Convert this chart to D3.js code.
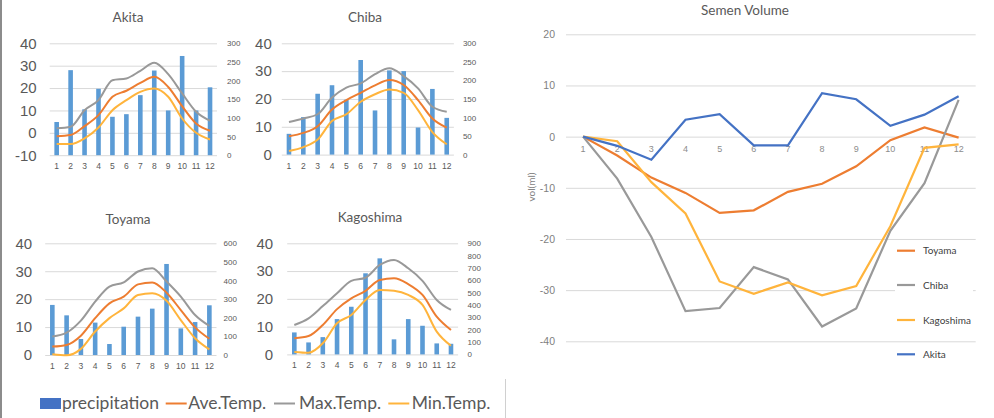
<!DOCTYPE html>
<html>
<head>
<meta charset="utf-8">
<script src="https://cdn.jsdelivr.net/npm/d3@7"></script>
<style>
  body { margin: 0; background: #fff; }
  svg { display: block; font-family: Lato, "Open Sans", sans-serif; }
  .tick line { stroke: #d9d9d9; }
</style>
</head>
<body>
<script>
// Months on the x axis
var months = [1, 2, 3, 4, 5, 6, 7, 8, 9, 10, 11, 12];

// Akita
var akitaPrecip = [89, 228, 123, 178, 103, 110, 161, 227, 120, 266, 120, 182];
var akitaAve = [-1.5, -1.0, 3.0, 7.9, 16.1, 18.8, 22.3, 25.0, 20.5, 11.9, 4.2, 0.9];
var akitaMax = [2.0, 2.7, 10.1, 14.6, 23.5, 24.3, 27.7, 31.3, 26.2, 17.6, 9.4, 5.4];
var akitaMin = [-5.0, -5.0, -2.5, 2.4, 10.1, 14.6, 18.3, 19.8, 16.1, 6.4, 0.0, -3.0];

// Chiba
var chibaPrecip = [56, 101, 164, 187, 148, 255, 119, 227, 225, 73, 177, 99];
var chibaAve = [6.6, 7.8, 10.2, 16.2, 19.6, 22.2, 24.9, 26.8, 25.0, 19.6, 13.0, 9.7];
var chibaMax = [11.7, 13.0, 14.5, 20.5, 24.1, 25.6, 28.9, 31.0, 28.2, 23.8, 17.2, 15.4];
var chibaMin = [1.3, 2.7, 5.4, 12.1, 14.5, 19.0, 21.7, 23.4, 22.2, 16.0, 8.1, 3.7];

// Toyama
var toyamaPrecip = [269, 213, 86, 174, 59, 152, 206, 249, 489, 143, 177, 267];
var toyamaAve = [3.0, 3.6, 6.9, 13.2, 18.5, 20.9, 25.3, 26.0, 22.3, 16.1, 9.9, 5.8];
var toyamaMax = [6.6, 8.0, 12.3, 19.1, 24.5, 26.0, 29.9, 31.1, 26.3, 20.9, 14.3, 10.4];
var toyamaMin = [0.3, -0.1, 2.2, 8.4, 13.2, 16.7, 21.5, 22.1, 19.4, 12.5, 6.0, 2.0];

// Kagoshima
var kagoPrecip = [178, 97, 140, 286, 386, 657, 778, 122, 286, 232, 89, 86];
var kagoAve = [5.8, 6.6, 10.6, 16.3, 20.2, 22.9, 26.8, 27.4, 25.3, 21.4, 13.6, 8.8];
var kagoMax = [10.6, 13.0, 17.4, 22.0, 26.5, 27.6, 32.2, 34.0, 31.0, 26.5, 19.6, 16.0];
var kagoMin = [0.9, 0.6, 4.0, 11.2, 14.2, 19.6, 23.2, 22.9, 21.4, 17.8, 8.2, 3.1];

// Semen Volume series
var semenToyama = [0, -3.7, -8.0, -11.0, -14.9, -14.4, -10.8, -9.2, -5.8, -0.7, 1.8, -0.2];
var semenChiba = [0, -8.2, -19.6, -34.1, -33.5, -25.5, -27.9, -37.1, -33.6, -18.4, -9.1, 7.2];
var semenKago = [0, -0.9, -8.9, -15.0, -28.3, -30.7, -28.5, -31.0, -29.2, -17.5, -2.2, -1.5];
var semenAkita = [0, -1.8, -4.5, 3.3, 4.4, -1.7, -1.7, 8.5, 7.3, 2.1, 4.3, 7.9];

// Tick labels
var tempTicks = [-10, 0, 10, 20, 30, 40];
var semenTicks = [-40, -30, -20, -10, 0, 10, 20];

var colors = {
  bar: "#5b9bd5",
  ave: "#ed7d31",
  max: "#999999",
  min: "#ffb43c",
  akita: "#4472c4",
  text: "#595959"
};

// plain hyphen minus, like the original
var plain = function(d) { return String(d); };

var svg = d3.select("body").append("svg")
  .attr("width", 994)
  .attr("height", 418);

// frame lines of the left picture
svg.append("line").attr("x1", 1).attr("x2", 1).attr("y1", 0).attr("y2", 418)
  .attr("stroke", "#8c8c8c").attr("stroke-width", 2);
svg.append("line").attr("x1", 505.5).attr("x2", 505.5).attr("y1", 379).attr("y2", 418)
  .attr("stroke", "#d0d0d0").attr("stroke-width", 1);

// Small panels
var panels = [
  { name: "Akita", precip: akitaPrecip, ave: akitaAve, max: akitaMax, min: akitaMin,
    x0: 49.7, x1: 217, yb: 155.2, yt: 43.3, lmin: -10, rmax: 300, rstep: 50,
    titleX: 128, titleY: 22, lpad: 13, rpad: 10 },
  { name: "Chiba", precip: chibaPrecip, ave: chibaAve, max: chibaMax, min: chibaMin,
    x0: 281.8, x1: 453.9, yb: 154.6, yt: 43.3, lmin: 0, rmax: 300, rstep: 50,
    titleX: 365, titleY: 22, lpad: 10, rpad: 9 },
  { name: "Toyama", precip: toyamaPrecip, ave: toyamaAve, max: toyamaMax, min: toyamaMin,
    x0: 45.2, x1: 216.5, yb: 355, yt: 243.3, lmin: 0, rmax: 600, rstep: 100,
    titleX: 128, titleY: 224, lpad: 13, rpad: 7 },
  { name: "Kagoshima", precip: kagoPrecip, ave: kagoAve, max: kagoMax, min: kagoMin,
    x0: 287.2, x1: 458.1, yb: 354.4, yt: 243.3, lmin: 0, rmax: 900, rstep: 100,
    titleX: 370, titleY: 222, lpad: 14, rpad: 9.5 }
];

panels.forEach(function(p) {
  var g = svg.append("g");

  var x = d3.scaleBand().domain(months).range([p.x0, p.x1]);
  var yL = d3.scaleLinear().domain([p.lmin, 40]).range([p.yb, p.yt]);
  var yR = d3.scaleLinear().domain([0, p.rmax]).range([p.yb, p.yt]);
  var lTicks = tempTicks.filter(function(t) { return t >= p.lmin; });
  var rTicks = d3.range(0, p.rmax + 1, p.rstep);

  // gridlines
  g.append("g")
    .attr("transform", `translate(${p.x0},0)`)
    .call(d3.axisLeft(yL).tickValues(lTicks).tickSize(-(p.x1 - p.x0)).tickFormat(""))
    .call(function(a) { a.select(".domain").remove(); });

  // left axis
  g.append("g")
    .attr("transform", `translate(${p.x0},0)`)
    .call(d3.axisLeft(yL).tickValues(lTicks).tickSize(0).tickPadding(p.lpad).tickFormat(plain))
    .call(function(a) {
      a.select(".domain").remove();
      a.selectAll("text").attr("fill", colors.text).style("font-size", "15px");
    });

  // right axis
  g.append("g")
    .attr("transform", `translate(${p.x1},0)`)
    .call(d3.axisRight(yR).tickValues(rTicks).tickSize(0).tickPadding(p.rpad))
    .call(function(a) {
      a.select(".domain").remove();
      a.selectAll("text").attr("fill", colors.text).style("font-size", "8px");
    });

  // x axis
  g.append("g")
    .attr("transform", `translate(0,${p.yb})`)
    .call(d3.axisBottom(x).tickSize(0).tickPadding(8))
    .call(function(a) {
      a.select(".domain").remove();
      a.selectAll("text").attr("fill", colors.text).style("font-size", "8.5px");
    });

  // bars
  var bw = 4.6;
  g.selectAll(".bar")
    .data(p.precip)
    .enter().append("rect")
    .attr("x", function(d, i) { return x(months[i]) + x.bandwidth() / 2 - bw / 2; })
    .attr("y", function(d) { return yR(d); })
    .attr("width", bw)
    .attr("height", function(d) { return yR(0) - yR(d); })
    .attr("fill", colors.bar);

  // temperature lines
  var line = d3.line()
    .x(function(d, i) { return x(months[i]) + x.bandwidth() / 2; })
    .y(function(d) { return yL(d); })
    .curve(d3.curveMonotoneX);

  [[p.max, colors.max], [p.ave, colors.ave], [p.min, colors.min]].forEach(function(s) {
    g.append("path")
      .attr("d", line(s[0]))
      .attr("fill", "none")
      .attr("stroke", s[1])
      .attr("stroke-width", 2);
  });

  g.append("text")
    .attr("x", p.titleX)
    .attr("y", p.titleY)
    .attr("text-anchor", "middle")
    .attr("fill", colors.text)
    .style("font-size", "13.5px")
    .text(p.name);
});

// Bottom legend of the small panels
var legend = svg.append("g").style("font-size", "17.5px").attr("fill", colors.text);
legend.append("rect").attr("x", 40).attr("y", 398).attr("width", 21).attr("height", 11)
  .attr("fill", colors.akita);
legend.append("text").attr("x", 62).attr("y", 409).text("precipitation");
[
  { x: 165.7, tx: 188.3, c: colors.ave, t: "Ave.Temp." },
  { x: 274, tx: 299, c: colors.max, t: "Max.Temp." },
  { x: 388.3, tx: 411.7, c: colors.min, t: "Min.Temp." }
].forEach(function(d) {
  legend.append("line").attr("x1", d.x).attr("x2", d.x + 21).attr("y1", 403.5).attr("y2", 403.5)
    .attr("stroke", d.c).attr("stroke-width", 2);
  legend.append("text").attr("x", d.tx).attr("y", 409).text(d.t);
});

// Semen Volume chart
var sg = svg.append("g");
var sx = d3.scaleBand().domain(months).range([566, 975.7]);
var sy = d3.scaleLinear().domain([-40, 20]).range([341.3, 34.3]);

sg.append("g")
  .attr("transform", "translate(566,0)")
  .call(d3.axisLeft(sy).tickValues(semenTicks).tickSize(-(975.7 - 566)).tickFormat(""))
  .call(function(a) { a.select(".domain").remove(); });

sg.append("g")
  .attr("transform", "translate(566,0)")
  .call(d3.axisLeft(sy).tickValues(semenTicks).tickSize(0).tickPadding(11).tickFormat(plain))
  .call(function(a) {
    a.select(".domain").remove();
    a.selectAll("text").attr("fill", "#7f7f7f").style("font-size", "10.5px");
  });

sg.append("g")
  .attr("transform", `translate(0,${sy(0)})`)
  .call(d3.axisBottom(sx).tickSize(0).tickPadding(9))
  .call(function(a) {
    a.select(".domain").remove();
    a.selectAll("text").attr("fill", "#8c8c8c").style("font-size", "9px");
  });

sg.append("text")
  .attr("transform", "translate(535,187) rotate(-90)")
  .attr("text-anchor", "middle")
  .attr("fill", "#7f7f7f")
  .style("font-size", "10px")
  .text("vol(ml)");

sg.append("text")
  .attr("x", 745)
  .attr("y", 15)
  .attr("text-anchor", "middle")
  .attr("fill", colors.text)
  .style("font-size", "13.5px")
  .text("Semen Volume");

var semenLine = d3.line()
  .x(function(d, i) { return sx(months[i]) + sx.bandwidth() / 2; })
  .y(function(d) { return sy(d); });

var semenSeries = [
  { name: "Toyama", values: semenToyama, color: colors.ave, ly: 250.7 },
  { name: "Chiba", values: semenChiba, color: colors.max, ly: 285 },
  { name: "Kagoshima", values: semenKago, color: colors.min, ly: 320 },
  { name: "Akita", values: semenAkita, color: colors.akita, ly: 354.3 }
];

// white box behind the legend
sg.append("rect").attr("x", 895).attr("y", 243).attr("width", 78).attr("height", 95).attr("fill", "#fff");

semenSeries.forEach(function(s) {
  sg.append("path")
    .attr("d", semenLine(s.values))
    .attr("fill", "none")
    .attr("stroke", s.color)
    .attr("stroke-width", 2.2);
});

semenSeries.forEach(function(s) {
  sg.append("line").attr("x1", 897).attr("x2", 915).attr("y1", s.ly).attr("y2", s.ly)
    .attr("stroke", s.color).attr("stroke-width", 2.2);
  sg.append("text").attr("x", 923).attr("y", s.ly + 3.5)
    .attr("fill", "#404040")
    .style("font-size", "10px")
    .text(s.name);
});
</script>
</body>
</html>
